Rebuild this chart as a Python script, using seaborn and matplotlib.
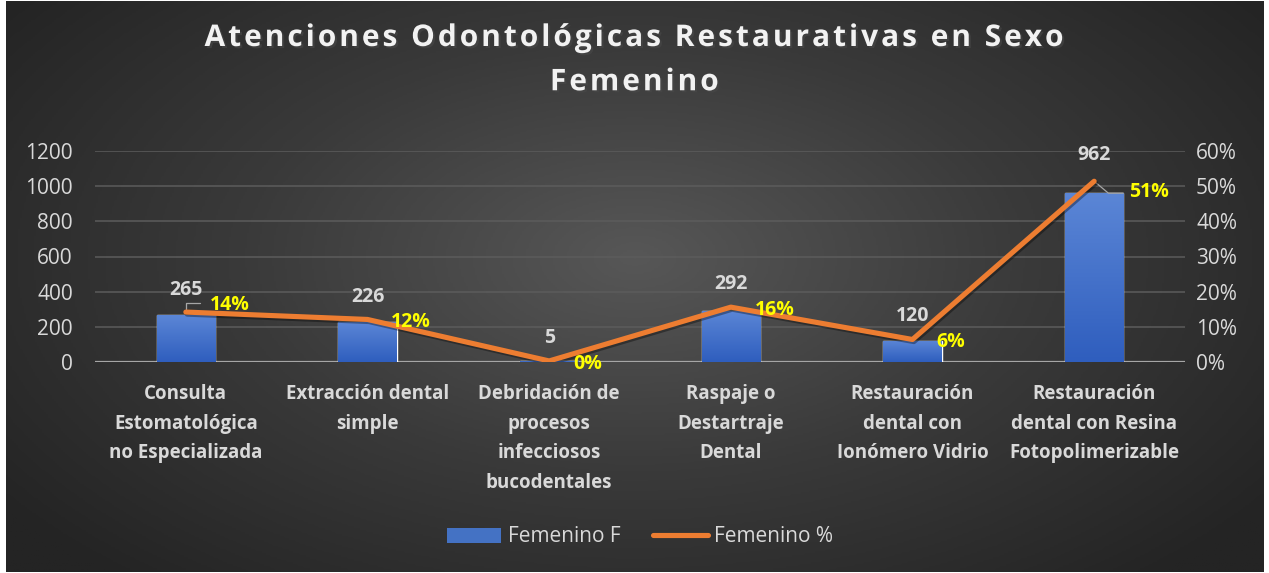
import numpy as np
import seaborn as sns
import matplotlib.pyplot as plt
import matplotlib.patheffects as pe
from matplotlib.colors import LinearSegmentedColormap
from matplotlib.patches import Patch
from matplotlib.lines import Line2D
from matplotlib.ticker import MultipleLocator, PercentFormatter

# datos
categorias = [
    "Consulta\nEstomatológica\nno Especializada",
    "Extracción dental\nsimple",
    "Debridación de\nprocesos\ninfecciosos\nbucodentales",
    "Raspaje o\nDestartraje\nDental",
    "Restauración\ndental con\nIonómero Vidrio",
    "Restauración\ndental con Resina\nFotopolimerizable",
]
femenino_f = [265, 226, 5, 292, 120, 962]
femenino_pct = [0.142, 0.121, 0.003, 0.156, 0.064, 0.514]
titulo = ["Atenciones Odontológicas Restaurativas en Sexo", "Femenino"]

# desplazamientos de etiquetas (puntos)
off_f = [18, 18, 17, 19, 18, 27]
off_pct = [(17, 5), (17, -2), (17, -2), (17, -2), (17, -2), (25, -8)]

TXT = "#d9d9d9"
NARANJA = "#ed7d31"

sns.set_style("white")
plt.rcParams["font.family"] = ["Open Sans", "DejaVu Sans"]

W, H = 1269, 573
fig = plt.figure(figsize=(W / 100, H / 100), dpi=100, facecolor="white")

# fondo con degradado radial
bg = fig.add_axes([6 / W, 1 / H, (1264 - 6) / W, (572 - 1) / H], zorder=-10)
yy, xx = np.mgrid[0:1:300j, 0:1:600j]
r = np.sqrt(((xx - 0.5) / 0.62) ** 2 + ((yy - 0.45) / 0.75) ** 2)
cmap_bg = LinearSegmentedColormap.from_list("bg", ["#575757", "#3a3a3a", "#242424"])
bg.imshow(np.clip(r, 0, 1), cmap=cmap_bg, vmin=0, vmax=1, aspect="auto",
          extent=(0, 1, 0, 1), origin="upper")
bg.set_axis_off()

ax = fig.add_axes([95 / W, (H - 362) / H, 1090 / W, 211 / H])
ax.patch.set_alpha(0)
x = np.arange(len(categorias))

sns.barplot(x=x, y=femenino_f, ax=ax, color="#4472c4", width=0.32,
            saturation=1, zorder=2)

# degradado en las barras
cmap_bar = LinearSegmentedColormap.from_list("bar", ["#2f5ebe", "#5b86d6"])
grad = np.linspace(0, 1, 100).reshape(-1, 1)
for p in ax.patches:
    x0, y0 = p.get_x(), p.get_y()
    w, h = p.get_width(), p.get_height()
    im = ax.imshow(grad, cmap=cmap_bar, aspect="auto", origin="lower",
                   extent=(x0, x0 + w, y0, y0 + h), zorder=2.1)
    im.set_clip_path(p)

ax.set_xlim(-0.5, len(categorias) - 0.5)
ax.set_ylim(0, 1200)
ax.yaxis.set_major_locator(MultipleLocator(200))
ax.grid(axis="y", color="#5c5c5c", lw=1.1, zorder=0)
ax.set_axisbelow(True)
for s in ax.spines.values():
    s.set_visible(False)
ax.axhline(0, color="#a6a6a6", lw=1.6, zorder=1.5)
ax.tick_params(axis="y", length=0, pad=16, labelsize=15, labelcolor=TXT)
ax.tick_params(axis="x", length=0, pad=16)
ax.set_xticks(x)
ax.set_xticklabels(categorias, fontsize=13.5, fontweight="bold", color=TXT,
                   linespacing=1.63, va="top")
ax.set_xlabel("")
ax.set_ylabel("")

for xi, v, o in zip(x, femenino_f, off_f):
    ax.annotate(f"{v}", (xi, v), xytext=(0, o), textcoords="offset points",
                ha="center", va="center", fontsize=14, fontweight="bold",
                color=TXT, zorder=5)

ax2 = ax.twinx()
ax2.patch.set_alpha(0)
sns.lineplot(x=x, y=femenino_pct, ax=ax2, color=NARANJA, lw=3.7,
             solid_capstyle="round", solid_joinstyle="round", zorder=4,
             path_effects=[pe.SimpleLineShadow(offset=(1, -1.5), alpha=0.35),
                           pe.Normal()])
ax2.set_ylim(0, 0.6)
ax2.yaxis.set_major_locator(MultipleLocator(0.1))
ax2.yaxis.set_major_formatter(PercentFormatter(1.0, decimals=0))
ax2.tick_params(axis="y", length=0, pad=8, labelsize=15, labelcolor=TXT)
for s in ax2.spines.values():
    s.set_visible(False)
ax2.set_ylabel("")
ax2.grid(False)

for xi, v, (dx, dy) in zip(x, femenino_pct, off_pct):
    ax2.annotate(f"{v:.0%}", (xi, v), xytext=(dx, dy), textcoords="offset points",
                 ha="left", va="center", fontsize=14, fontweight="bold",
                 color="#ffff00", zorder=6)

# lineas guia
ax2.annotate("", (x[0], femenino_pct[0]), xytext=(x[0] + 0.08, 0.167),
             arrowprops=dict(arrowstyle="-", color="#a6a6a6", lw=0.9,
                             connectionstyle="angle,angleA=0,angleB=90,rad=0",
                             shrinkA=0, shrinkB=2))
ax2.annotate("", (x[5], femenino_pct[5]), xytext=(x[5] + 0.16, 0.48),
             arrowprops=dict(arrowstyle="-", color="#a6a6a6", lw=0.9,
                             connectionstyle="angle,angleA=0,angleB=-40,rad=0",
                             shrinkA=0, shrinkB=2))

# titulo con espaciado entre letras
espaciado = "\n".join("\u200a".join(linea) for linea in titulo)
fig.text(0.5, 1 - 23 / H, espaciado,
         ha="center", va="top", fontsize=21.5, fontweight="bold", color="#f2f2f2",
         linespacing=1.62, family=["Open Sans", "DejaVu Sans"],
         path_effects=[pe.withSimplePatchShadow(offset=(1.5, -1.5), alpha=0.6)])

handles = [Patch(facecolor="#4472c4", edgecolor="none"),
           Line2D([], [], color=NARANJA, lw=3.7, solid_capstyle="round")]
leg = fig.legend(handles, ["Femenino F", "Femenino %"], loc="center",
                 bbox_to_anchor=(640 / W, 1 - 537 / H), ncol=2, frameon=False,
                 fontsize=15, handlelength=2.6, handletextpad=0.3,
                 columnspacing=1.6, labelcolor=TXT)

fig.savefig("out.png", dpi=100, facecolor="white")
